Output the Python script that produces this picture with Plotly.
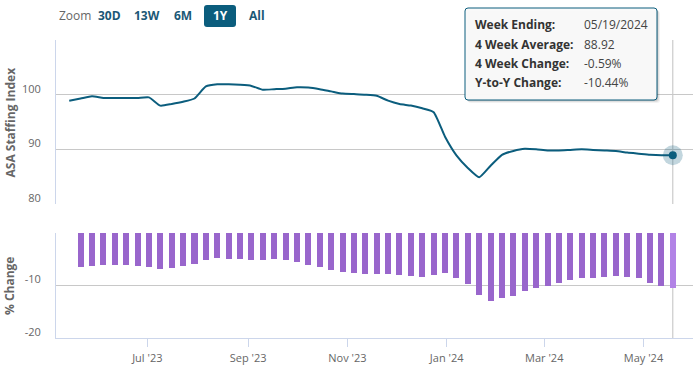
import plotly.graph_objects as go
import pandas as pd

# ---------------- data ----------------
line_start = "2023-05-14"
line_values = [98.9, 99.3, 99.7, 99.4, 99.4, 99.4, 99.4, 99.5, 98.0, 98.3,
               98.7, 99.3, 101.5, 101.9, 101.9, 101.8, 101.6, 100.9, 101.0, 101.1,
               101.35, 101.3, 101.0, 100.6, 100.2, 100.1, 100.0, 99.8, 98.9, 98.3,
               98.0, 97.5, 96.8, 92.3, 88.9, 86.6, 84.9, 87.0, 89.0, 89.7,
               90.1, 90.0, 89.8, 89.8, 89.9, 90.0, 89.9, 89.8, 89.7, 89.4,
               89.2, 89.0, 88.9, 88.92]

bar_start = "2023-05-21"
bar_values = [-6.5, -6.3, -6.1, -6.1, -6.1, -6.3, -6.5, -6.9, -6.7, -6.3,
              -5.9, -5.2, -4.8, -5.0, -5.0, -5.2, -5.2, -5.0, -5.2, -5.6,
              -6.1, -6.5, -7.1, -7.5, -7.7, -7.8, -7.8, -7.8, -8.0, -8.2,
              -8.4, -8.0, -7.7, -8.6, -9.7, -11.8, -13.0, -12.4, -12.0, -11.1,
              -10.5, -10.1, -9.6, -9.0, -8.6, -8.6, -8.4, -8.2, -8.4, -8.6,
              -9.6, -10.1, -10.44]

x_tick_dates = ["2023-07-01", "2023-09-01", "2023-11-01", "2024-01-01", "2024-03-01", "2024-05-01"]
x_tick_labels = ["Jul '23", "Sep '23", "Nov '23", "Jan '24", "Mar '24", "May '24"]
y1_ticks = [80, 90, 100, 110]
y1_tick_labels = ["80", "90", "100", ""]
y2_ticks = [-20, -10, 0]
y2_tick_labels = ["-20", "-10", ""]

zoom_buttons = ["30D", "13W", "6M", "1Y", "All"]
tooltip_labels = ["Week Ending:", "4 Week Average:", "4 Week Change:", "Y-to-Y Change:"]
tooltip_values = ["05/19/2024", "88.92", "-0.59%", "-10.44%"]

line_dates = pd.date_range(line_start, periods=len(line_values), freq="7D")
bar_dates = pd.date_range(bar_start, periods=len(bar_values), freq="7D")

# ---------------- style ----------------
W, H = 693, 368
ML, MR, MT, MB = 56, 0, 40, 30
PW, PH = W - ML - MR, H - MT - MB
TEAL = "#0b5d7d"
PURPLE = "#9966cc"
PURPLE_HOVER = "#b283e6"
GRID = "#c8c8c8"
AXIS = "#ccd6eb"
FONT = "Open Sans"


def px(x):
    return (x - ML) / PW


def py(y):
    return (H - MB - y) / PH


def rounded_rect(x0, y0, x1, y1, r=3):
    X0, X1 = px(x0), px(x1)
    Y0, Y1 = py(y0), py(y1)  # Y0 top, Y1 bottom
    rx, ry = r / PW, r / PH
    return (f"M{X0+rx},{Y0} L{X1-rx},{Y0} Q{X1},{Y0} {X1},{Y0-ry} "
            f"L{X1},{Y1+ry} Q{X1},{Y1} {X1-rx},{Y1} L{X0+rx},{Y1} "
            f"Q{X0},{Y1} {X0},{Y1+ry} L{X0},{Y0-ry} Q{X0},{Y0} {X0+rx},{Y0} Z")


fig = go.Figure()

fig.add_trace(go.Scatter(x=line_dates, y=line_values, mode="lines",
                         line=dict(color=TEAL, width=2, shape="spline", smoothing=0.5),
                         xaxis="x", yaxis="y", hoverinfo="skip"))
bar_colors = [PURPLE] * (len(bar_values) - 1) + [PURPLE_HOVER]
fig.add_trace(go.Bar(x=bar_dates, y=bar_values, marker=dict(color=bar_colors, line=dict(width=0)),
                     width=3.7 * 86400000, xaxis="x", yaxis="y2", hoverinfo="skip"))
# hover marker on last point
fig.add_trace(go.Scatter(x=[line_dates[-1]], y=[line_values[-1]], mode="markers",
                         marker=dict(size=20, color="rgba(11,93,125,0.25)"),
                         xaxis="x", yaxis="y", hoverinfo="skip"))
fig.add_trace(go.Scatter(x=[line_dates[-1]], y=[line_values[-1]], mode="markers",
                         marker=dict(size=8, color=TEAL, line=dict(width=0)),
                         xaxis="x", yaxis="y", hoverinfo="skip"))

shapes = []
# crosshairs
for yr in ["y domain", "y2 domain"]:
    shapes.append(dict(type="line", xref="x", yref=yr, x0=line_dates[-1], x1=line_dates[-1],
                       y0=0, y1=1, line=dict(color="#c0c0c0", width=1), layer="below"))

# zoom buttons
btn_x = [109, 146.5, 182.5, 220, 256.5]
shapes.append(dict(type="path", xref="paper", yref="paper", path=rounded_rect(204, 5, 236, 27, 3),
                   fillcolor=TEAL, line=dict(width=0)))

# tooltip shadow and box
for off, a in [(3, 0.05), (2, 0.08), (1, 0.12)]:
    shapes.append(dict(type="path", xref="paper", yref="paper",
                       path=rounded_rect(465 + off, 8 + off, 657 + off, 100 + off, 3),
                       fillcolor=f"rgba(0,0,0,{a})", line=dict(width=0)))
shapes.append(dict(type="path", xref="paper", yref="paper", path=rounded_rect(465, 8, 657, 100, 3),
                   fillcolor="rgba(250,250,250,0.97)", line=dict(color=TEAL, width=1)))

annotations = []
annotations.append(dict(text="Zoom", x=px(57), y=py(16), xref="paper", yref="paper",
                        xanchor="left", yanchor="middle", showarrow=False,
                        font=dict(family=FONT, size=12, color="#666666")))
for lbl, bx in zip(zoom_buttons, btn_x):
    annotations.append(dict(text=f"<b>{lbl}</b>", x=px(bx), y=py(16), xref="paper", yref="paper",
                            xanchor="center", yanchor="middle", showarrow=False,
                            font=dict(family=FONT, size=12,
                                      color="#ffffff" if lbl == "1Y" else "#1b5876")))

row_y = [25, 44.5, 63.5, 82]
for lbl, val, ry in zip(tooltip_labels, tooltip_values, row_y):
    annotations.append(dict(text=f"<b>{lbl}</b>", x=px(473), y=py(ry), xref="paper", yref="paper",
                            xanchor="left", yanchor="middle", showarrow=False,
                            font=dict(family=FONT, size=12, color="#333333")))
    annotations.append(dict(text=val, x=px(582), y=py(ry), xref="paper", yref="paper",
                            xanchor="left", yanchor="middle", showarrow=False,
                            font=dict(family=FONT, size=12, color="#444444")))

annotations.append(dict(text="<b>ASA Staffing Index</b>", textangle=-90, x=px(9.5), y=py(122),
                        xref="paper", yref="paper", xanchor="center", yanchor="middle", showarrow=False,
                        font=dict(family=FONT, size=12, color="#666666")))
annotations.append(dict(text="<b>% Change</b>", textangle=-90, x=px(9.5), y=py(285.5),
                        xref="paper", yref="paper", xanchor="center", yanchor="middle", showarrow=False,
                        font=dict(family=FONT, size=12, color="#666666")))

fig.update_layout(
    width=W, height=H,
    margin=dict(l=ML, r=MR, t=MT, b=MB, pad=0),
    paper_bgcolor="white", plot_bgcolor="white",
    showlegend=False,
    bargap=0,
    font=dict(family=FONT, size=11, color="#666666"),
    xaxis=dict(anchor="y2", type="date", range=["2023-05-05 21:00", "2024-05-31 10:00"],
               tickvals=x_tick_dates, ticktext=x_tick_labels,
               showgrid=False, zeroline=False, showline=True, linecolor=AXIS, linewidth=1,
               ticks="outside", ticklen=8, tickcolor=AXIS, tickwidth=1, ticklabelstandoff=2,
               tickfont=dict(family=FONT, size=11, color="#666666")),
    yaxis=dict(domain=[py(204), 1], range=[80, 110], tickvals=y1_ticks, ticktext=y1_tick_labels,
               showgrid=True, gridcolor=GRID, gridwidth=1, zeroline=False,
               showline=True, linecolor=AXIS, linewidth=1, ticks="",
               ticklabelshift=-6, ticklabelstandoff=12,
               tickfont=dict(family=FONT, size=11, color="#666666")),
    yaxis2=dict(domain=[0, py(233)], range=[-20, 0], tickvals=y2_ticks, ticktext=y2_tick_labels,
                showgrid=True, gridcolor=GRID, gridwidth=1, zeroline=False,
                showline=True, linecolor=AXIS, linewidth=1, ticks="",
                ticklabelshift=-6, ticklabelstandoff=12,
                tickfont=dict(family=FONT, size=11, color="#666666")),
    shapes=shapes,
    annotations=annotations,
)

fig.write_html("out.html", config={"displayModeBar": False},
               post_script="document.body.style.margin='0';document.body.style.overflow='hidden';")
